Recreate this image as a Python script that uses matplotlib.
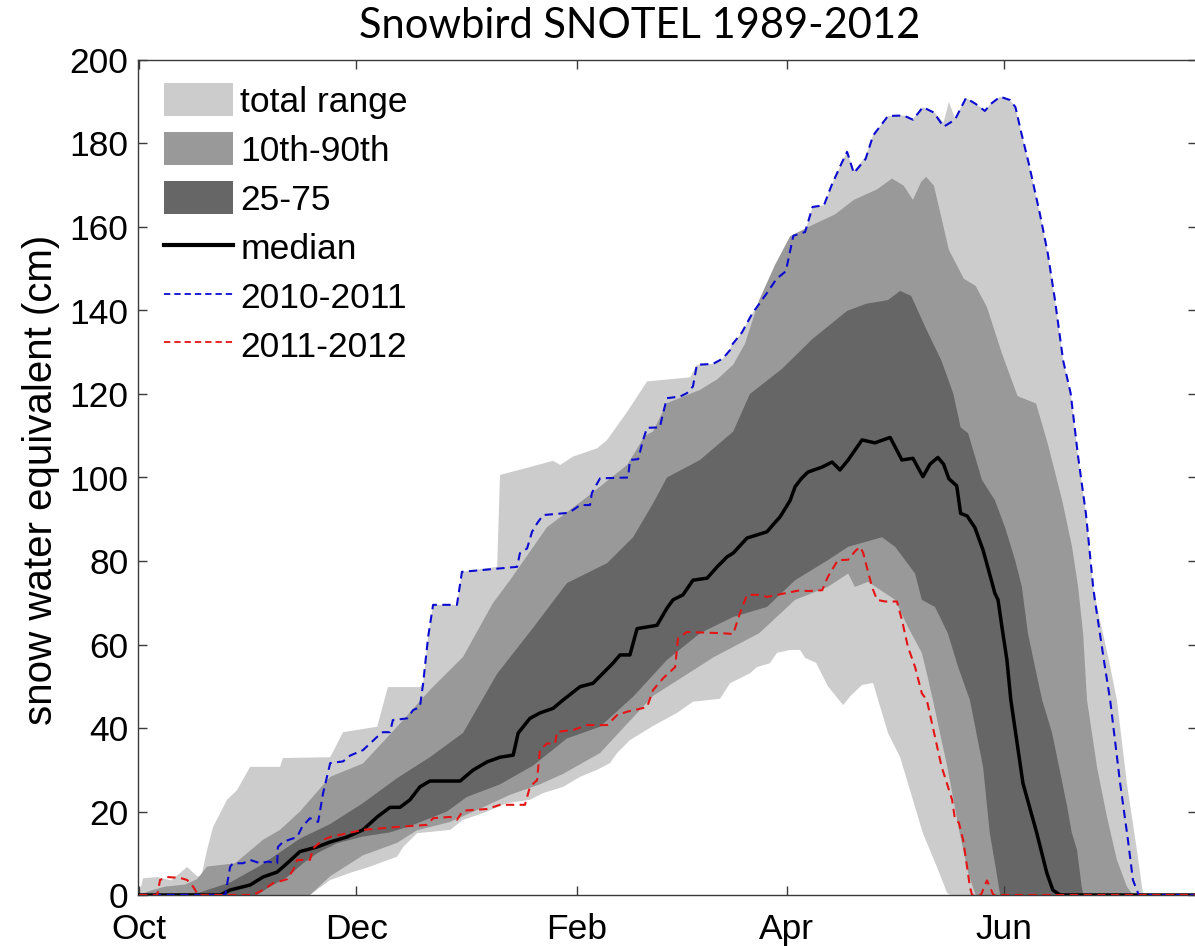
import numpy as np
import matplotlib
matplotlib.use("Agg")
import matplotlib.pyplot as plt
from matplotlib.patches import Patch
from matplotlib.lines import Line2D

# Snow water equivalent (cm) at Snowbird SNOTEL, water year 1989-2012.
# Each series is a list of (day since 1 Oct, SWE in cm).

month_ticks = [0, 61, 123, 182, 243]
month_labels = ["Oct", "Dec", "Feb", "Apr", "Jun"]

swe_max = [(0, 0.0), (1.1, 4.0), (5.1, 4.3), (9.0, 3.5), (13.5, 6.7), (16.3, 4.5), (17.5, 4.5),
           (19.1, 10.8), (20.8, 16.3), (24.7, 22.8), (27.5, 25.1), (31.2, 30.7), (39.6, 30.7),
           (40.4, 32.8), (53.7, 33.0), (57.3, 39.0), (66.9, 40.3), (69.9, 49.8), (78.9, 49.8),
           (79.8, 50.7), (81.2, 61.8), (82.6, 69.5), (89.3, 69.5), (90.7, 77.4), (100.6, 78.6),
           (101.4, 100.6), (109.8, 102.5), (116.3, 104.0), (118.3, 103.0), (121.9, 105.0),
           (128.7, 107.0), (131.5, 109.0), (137.1, 115.7), (142.7, 123.0), (154.8, 124.0),
           (156.7, 127.0), (161.2, 127.2), (164.0, 128.5), (166.0, 130.5), (166.3, 131.5),
           (169.4, 134.8), (172.2, 139.2), (176.4, 144.2), (179.1, 147.6), (181.7, 149.4),
           (183.8, 157.9), (187.1, 158.8), (189.2, 164.8), (192.4, 165.2), (194.5, 169.9),
           (197.2, 175.0), (198.9, 178.0), (200.8, 173.5), (204.1, 176.8), (206.2, 182.0),
           (210.4, 186.6), (214.8, 186.7), (217.4, 185.9), (220.2, 188.7), (223.3, 187.6),
           (226.0, 185.0), (227.5, 190.0), (229.2, 186.0), (232.3, 190.9), (235.0, 189.5),
           (237.6, 188.0), (239.3, 189.5), (241.9, 191.2), (244.7, 190.4), (246.2, 188.7),
           (247.8, 182.7), (250.0, 175.0), (253.1, 163.0), (255.3, 153.6), (257.3, 142.5),
           (259.6, 128.0), (261.7, 120.2), (263.8, 105.0), (266.0, 91.3), (268.0, 74.0),
           (269.9, 66.0), (272.5, 56.0), (274.7, 46.7), (277.5, 26.8), (280.3, 10.8),
           (282.0, 0.5), (282.5, 0.0), (300, 0.0)]

swe_p90 = [(0, 0.0), (3.1, 1.0), (7.3, 2.0), (12.9, 2.5), (16.3, 3.8), (19.1, 6.8), (27.0, 7.6),
           (34.8, 13.2), (39.6, 15.6), (45.2, 20.0), (53.7, 28.3), (62.9, 31.5), (72.5, 40.3),
           (81.7, 49.1), (91.0, 57.0), (99.4, 69.9), (104.2, 75.4), (114.6, 88.1), (125.8, 95.3),
           (137.1, 103.0), (142.1, 110.0), (144.4, 111.0), (148.3, 117.8), (157.6, 121.0),
           (162.4, 123.5), (166.9, 127.0), (170.2, 132.0), (174.2, 142.5), (178.7, 151.0),
           (182.9, 157.8), (189.2, 160.5), (195.5, 163.0), (200.8, 166.5), (207.3, 169.0),
           (211.5, 171.6), (214.8, 169.9), (217.4, 166.5), (219.7, 170.8), (221.1, 172.0),
           (223.3, 169.9), (225.4, 162.2), (227.5, 154.5), (231.7, 147.6), (235.0, 145.9),
           (238.2, 140.8), (242.4, 129.7), (246.8, 119.5), (252.0, 117.7), (255.3, 108.0),
           (259.3, 94.6), (262.1, 83.4), (263.8, 73.8), (265.2, 62.7), (266.3, 46.7),
           (269.1, 30.7), (271.9, 18.7), (274.7, 8.4), (277.5, 2.0), (279.2, 0.0), (300, 0.0)]

swe_p75 = [(0, 0.0), (10.0, 0.3), (17.0, 0.6), (25.6, 3.0), (34.0, 7.0), (45.2, 13.5), (53.7, 17.0),
           (62.9, 22.0), (72.5, 28.0), (81.7, 33.0), (91.0, 38.8), (100.6, 53.0), (110.7, 64.0),
           (120.2, 74.7), (131.5, 79.5), (138.8, 85.7), (144.4, 93.8), (148.3, 100.0),
           (157.6, 104.2), (166.9, 111.0), (171.6, 120.0), (180.6, 126.0), (189.2, 133.2),
           (198.9, 139.9), (204.2, 141.6), (210.4, 142.5), (213.8, 144.7), (216.9, 143.5),
           (221.1, 135.6), (225.4, 128.0), (228.7, 120.2), (230.8, 112.0), (232.9, 110.6),
           (236.8, 99.4), (240.4, 94.6), (243.3, 88.0), (246.1, 80.2), (248.0, 73.8),
           (249.7, 62.7), (251.7, 54.6), (253.7, 46.7), (256.5, 38.8), (258.4, 30.9),
           (260.7, 21.3), (262.0, 15.0), (263.5, 10.8), (264.8, 2.0), (265.3, 0.0), (300, 0.0)]

swe_p25 = [(0, 0.0), (33.1, 0.0), (36.8, 2.0), (41.6, 4.3), (46.1, 7.6), (50.0, 10.0), (55.6, 12.4),
           (62.9, 14.0), (70.5, 15.0), (76.1, 16.5), (86.5, 20.0), (92.1, 23.5), (101.4, 26.5),
           (110.7, 31.0), (120.2, 37.5), (129.5, 40.3), (138.8, 47.5), (148.3, 56.3),
           (157.6, 62.7), (166.9, 66.6), (176.4, 69.0), (184.3, 75.4), (193.5, 80.2),
           (199.2, 83.4), (208.7, 85.7), (212.4, 83.4), (218.0, 77.0), (219.9, 70.7),
           (223.6, 69.0), (227.2, 62.7), (230.1, 54.6), (233.4, 46.7), (237.1, 30.7),
           (239.0, 14.8), (240.9, 5.3), (241.9, 0.0), (300, 0.0)]

swe_p10 = [(0, 0.0), (48.0, 0.0), (53.7, 4.5), (62.9, 9.5), (72.5, 12.5), (78.1, 15.5), (87.4, 17.5),
           (96.6, 21.0), (104.2, 24.0), (112.6, 26.5), (119.1, 29.0), (129.5, 34.0), (144.4, 47.7),
           (161.5, 57.0), (174.2, 62.7), (184.3, 70.7), (193.5, 73.8), (199.2, 77.0),
           (201.1, 73.8), (204.8, 75.0), (212.4, 70.7), (216.0, 64.2), (219.9, 58.0),
           (221.6, 52.0), (223.0, 46.7), (227.0, 30.9), (230.5, 15.0), (233.0, 5.0),
           (235.0, 0.0), (300, 0.0)]

swe_min = [(0, 0.0), (48.0, 0.0), (53.7, 3.6), (59.3, 5.3), (64.9, 6.8), (72.5, 9.2), (74.2, 11.5),
           (78.1, 14.8), (87.4, 15.6), (91.0, 18.0), (96.6, 19.6), (103.4, 22.0), (109.8, 22.8),
           (113.5, 24.4), (119.1, 25.9), (123.9, 28.3), (128.7, 30.0), (132.3, 31.6),
           (134.3, 34.0), (137.9, 37.1), (144.4, 40.5), (151.1, 43.6), (155.6, 46.3),
           (163.2, 47.0), (166.0, 50.7), (171.6, 53.1), (173.6, 54.6), (177.2, 55.5),
           (179.2, 58.0), (182.9, 58.7), (185.7, 58.7), (187.1, 56.8), (190.2, 55.6),
           (193.5, 50.0), (197.8, 45.5), (199.9, 47.7), (203.1, 50.3), (206.2, 50.8),
           (210.4, 38.8), (213.8, 33.0), (217.4, 22.8), (220.2, 14.8), (224.1, 6.8),
           (227.0, 0.5), (228.0, 0.0), (300, 0.0)]

swe_median = [(0, 0.0), (22.8, 0.0), (25.6, 1.2), (31.2, 2.4), (34.8, 4.3), (38.8, 5.5), (41.6, 7.6),
              (45.2, 10.4), (50.0, 11.5), (53.7, 12.7), (58.4, 13.9), (62.9, 15.6), (66.9, 18.7),
              (70.5, 21.0), (73.3, 21.0), (76.1, 22.8), (78.9, 25.9), (81.7, 27.3), (90.2, 27.3),
              (93.8, 29.9), (97.8, 31.9), (101.4, 33.0), (105.1, 33.5), (106.5, 38.8),
              (109.8, 42.3), (112.6, 43.6), (116.3, 44.7), (119.1, 46.7), (123.9, 49.9),
              (127.5, 50.7), (130.3, 53.1), (133.1, 55.5), (135.1, 57.5), (137.9, 57.5),
              (139.9, 63.8), (145.5, 64.6), (148.3, 68.7), (150.0, 70.7), (152.8, 71.9),
              (155.6, 75.4), (159.6, 75.9), (162.4, 78.6), (165.2, 81.0), (166.9, 81.9),
              (170.8, 85.5), (176.4, 87.0), (177.5, 88.1), (180.1, 90.6), (182.9, 94.5),
              (184.3, 97.8), (186.0, 99.7), (187.9, 101.3), (191.9, 102.5), (194.7, 103.7),
              (196.9, 101.8), (199.2, 104.2), (203.1, 109.0), (206.7, 108.3), (211.0, 109.6),
              (214.3, 104.2), (217.4, 104.6), (220.2, 100.2), (222.2, 103.2), (224.4, 104.8),
              (226.0, 103.2), (227.5, 99.7), (229.7, 98.0), (230.8, 91.4), (232.6, 90.8),
              (234.8, 88.0), (237.1, 82.6), (239.3, 75.8), (240.4, 72.3), (241.3, 70.7),
              (242.4, 64.2), (243.8, 56.3), (244.9, 46.7), (248.3, 26.8), (252.2, 14.8),
              (255.0, 5.3), (256.7, 1.2), (258.7, 0.0), (300, 0.0)]

swe_2010_2011 = [(0, 0.0), (24.2, 0.0), (25.6, 6.8), (26.4, 7.6), (29.2, 7.6), (31.2, 8.4), (34.0, 7.6),
                 (36.2, 8.0), (38.8, 7.6), (39.0, 11.5), (40.4, 12.7), (44.4, 13.9), (45.8, 16.3),
                 (48.0, 18.4), (50.3, 17.5), (51.7, 24.4), (53.7, 31.6), (57.3, 32.0), (59.3, 33.4),
                 (62.9, 34.7), (66.9, 37.9), (68.5, 39.0), (70.5, 39.0), (71.3, 41.9), (75.3, 42.3),
                 (77.0, 44.3), (78.9, 45.0), (79.8, 50.7), (81.2, 61.8), (82.6, 69.5), (89.3, 69.5),
                 (90.7, 77.4), (106.2, 78.6), (107.0, 81.9), (109.0, 83.0), (110.4, 87.0),
                 (111.8, 89.0), (113.5, 91.0), (120.2, 91.5), (121.9, 92.2), (123.9, 93.4),
                 (126.7, 93.4), (127.2, 96.3), (129.5, 99.8), (137.4, 100.0), (137.9, 104.2),
                 (140.2, 104.4), (141.6, 109.0), (142.7, 111.9), (146.3, 112.0), (147.2, 115.4),
                 (148.3, 119.0), (152.0, 119.4), (153.9, 120.2), (155.6, 121.8), (156.7, 127.0),
                 (161.2, 127.2), (164.0, 128.5), (166.0, 130.5), (166.3, 131.5), (169.4, 134.8),
                 (172.2, 139.2), (176.4, 144.2), (179.1, 147.6), (181.7, 149.4), (183.8, 157.9),
                 (187.1, 158.8), (189.2, 164.8), (192.4, 165.2), (194.5, 169.9), (197.2, 175.0),
                 (198.9, 178.0), (200.8, 172.9), (204.1, 176.3), (206.2, 181.9), (210.4, 186.6),
                 (214.8, 186.7), (217.4, 185.7), (220.2, 188.7), (223.3, 187.4), (226.0, 184.0),
                 (229.2, 185.7), (232.3, 190.9), (235.0, 189.5), (237.6, 187.8), (239.3, 189.5),
                 (241.9, 191.2), (244.7, 190.4), (246.2, 188.7), (247.8, 182.7), (250.0, 175.0),
                 (253.1, 163.0), (255.3, 153.6), (257.3, 142.5), (259.6, 128.0), (261.7, 120.2),
                 (263.8, 105.0), (266.0, 91.3), (268.0, 74.0), (268.5, 70.7), (271.3, 54.8),
                 (272.8, 46.7), (275.6, 26.8), (277.8, 13.2), (279.2, 3.6), (280.6, 0.5),
                 (281.0, 0.0), (300, 0.0)]

swe_2011_2012 = [(0, 0.0), (5.1, 0.0), (5.9, 3.6), (7.9, 4.3), (11.5, 4.1), (13.5, 3.6), (15.2, 2.0),
                 (16.6, 0.0), (32.0, 0.0), (34.8, 1.2), (37.6, 2.8), (41.6, 3.8), (43.3, 6.0),
                 (44.4, 8.4), (48.0, 8.4), (48.9, 11.2), (51.7, 13.2), (53.7, 13.9), (62.9, 15.6),
                 (72.5, 16.3), (80.9, 16.8), (82.6, 18.4), (87.4, 18.7), (89.3, 18.0), (91.0, 20.2),
                 (97.8, 20.6), (101.4, 21.6), (108.4, 21.6), (109.8, 25.9), (111.8, 27.5),
                 (112.6, 34.7), (114.6, 36.3), (116.9, 36.3), (117.4, 39.1), (121.9, 39.5),
                 (125.8, 40.7), (131.5, 40.7), (134.3, 43.1), (137.1, 43.9), (142.7, 45.0),
                 (144.4, 49.1), (147.2, 51.9), (150.6, 54.6), (151.4, 61.5), (153.9, 63.0),
                 (164.0, 62.7), (166.9, 62.5), (168.8, 67.5), (170.8, 71.9), (174.4, 71.9),
                 (176.4, 71.4), (185.7, 73.0), (187.9, 72.8), (191.9, 73.0), (193.5, 76.2),
                 (196.3, 80.2), (199.2, 80.3), (201.1, 82.3), (202.5, 83.4), (203.4, 82.0),
                 (205.9, 73.8), (207.3, 70.7), (209.6, 70.3), (212.9, 70.3), (214.3, 65.9),
                 (216.0, 59.4), (218.0, 54.6), (219.9, 48.3), (221.3, 46.7), (225.4, 30.9),
                 (228.4, 22.8), (229.2, 18.2), (230.3, 17.3), (231.5, 13.2), (233.4, 2.0),
                 (234.0, 0.0), (236.5, 0.0), (238.2, 3.5), (240.0, 0.0), (300, 0.0)]

legend_labels = ["total range", "10th-90th", "25-75", "median", "2010-2011", "2011-2012"]

LIGHT, MID, DARK = "#cccccc", "#999999", "#666666"
BLUE, RED = "#0b0bd2", "#e41414"
FONT = "Liberation Sans"


def split(points):
    arr = np.asarray(points, dtype=float)
    return arr[:, 0], arr[:, 1]


fig = plt.figure(figsize=(11.95, 9.46), dpi=100)
ax = fig.add_axes([138 / 1195, 51 / 946, 1059 / 1195, 835 / 946])


def band(lower, upper, color):
    xl, yl = split(lower)
    xu, yu = split(upper)
    ax.fill(np.r_[xu, xl[::-1]], np.r_[yu, yl[::-1]], color=color, lw=0, zorder=1)


band(swe_min, swe_max, LIGHT)
band(swe_p10, swe_p90, MID)
band(swe_p25, swe_p75, DARK)

dash = (0, (4.0, 2.6))
ax.plot(*split(swe_median), color="black", lw=2.5, zorder=3)
ax.plot(*split(swe_2010_2011), color=BLUE, lw=1.5, ls=dash, zorder=4)
ax.plot(*split(swe_2011_2012), color=RED, lw=1.5, ls=dash, zorder=5)

ax.set_xlim(-0.3, 297.2)
ax.set_ylim(0, 200)
ax.set_xticks(month_ticks)
ax.set_xticklabels(month_labels)
ax.set_yticks(np.arange(0, 201, 20))
for spine in ax.spines.values():
    spine.set_color("#3a3a3a")
    spine.set_linewidth(1.0)
ax.tick_params(direction="in", length=6.5, width=1.0, color="#3a3a3a",
               top=True, right=True, labelsize=25.5)
ax.tick_params(axis="x", pad=13)
ax.tick_params(axis="y", pad=7)
for lab in ax.get_xticklabels() + ax.get_yticklabels():
    lab.set_fontfamily(FONT)

fig.text(41 / 1195, 1 - 480 / 946, "snow water equivalent (cm)", rotation=90,
         ha="center", va="center", fontsize=29, family=FONT)
fig.text(640 / 1195, 1 - 38 / 946, "Snowbird SNOTEL 1989-2012", ha="center",
         va="baseline", fontsize=30, family="Lato")

handles = [Patch(facecolor=LIGHT, edgecolor="none"),
           Patch(facecolor=MID, edgecolor="none"),
           Patch(facecolor=DARK, edgecolor="none"),
           Line2D([], [], color="black", lw=3.0),
           Line2D([], [], color=BLUE, lw=1.3, ls=(0, (3.5, 2.2))),
           Line2D([], [], color=RED, lw=1.3, ls=(0, (3.5, 2.2)))]
ax.legend(handles, legend_labels, loc="upper left", bbox_to_anchor=(0.0246, 0.972),
          frameon=False, prop={"family": FONT, "size": 25.5}, handlelength=1.95,
          handleheight=1.05, handletextpad=0.2, labelspacing=0.38, borderpad=0,
          borderaxespad=0)

fig.savefig("out.png", dpi=100)
